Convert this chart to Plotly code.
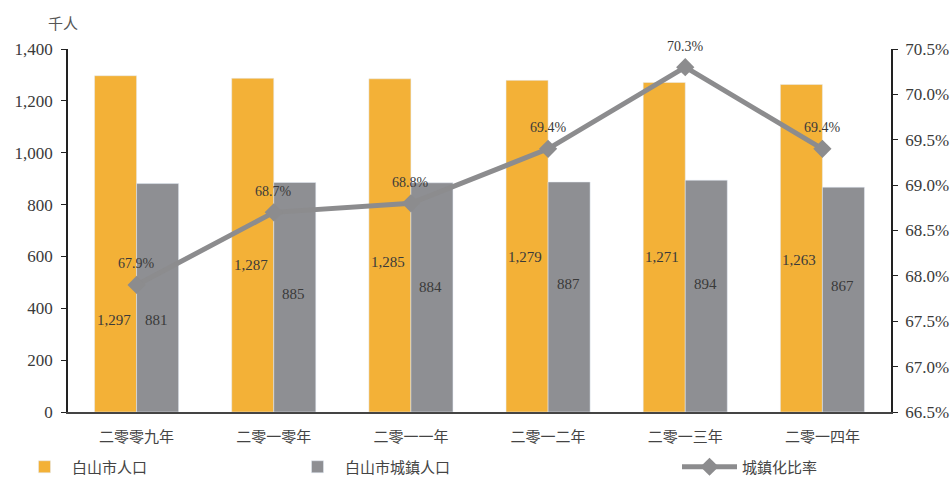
import plotly.graph_objects as go

# 白山市人口与城镇化数据
years = ["二零零九年", "二零一零年", "二零一一年", "二零一二年", "二零一三年", "二零一四年"]
total_pop = [1297, 1287, 1285, 1279, 1271, 1263]
urban_pop = [881, 885, 884, 887, 894, 867]
urban_rate = [67.9, 68.7, 68.8, 69.4, 70.3, 69.4]

# label heights (in thousands, left axis units)
total_label_y = [355, 567, 579, 598, 598, 586]
urban_label_y = [355, 455, 482, 494, 494, 486]

ORANGE = "#F3B137"
GREY = "#8E8F93"
LINE_GREY = "#8C8C8E"
TEXT = "#3a3a3a"
SERIF = "Liberation Serif, DejaVu Serif, Noto Sans CJK SC, serif"
CJK = "Noto Sans CJK SC, Noto Sans CJK TC, sans-serif"

fig = go.Figure()

fig.add_trace(go.Bar(
    x=years, y=total_pop, name="白山市人口", marker_color=ORANGE,
    legend="legend", showlegend=True, hoverinfo="skip",
))
fig.add_trace(go.Bar(
    x=years, y=urban_pop, name="白山市城鎮人口", marker_color=GREY,
    legend="legend2", showlegend=True, hoverinfo="skip",
))
fig.add_trace(go.Scatter(
    x=years, y=urban_rate, name="城鎮化比率", yaxis="y2",
    mode="lines+markers",
    line=dict(color=LINE_GREY, width=5),
    marker=dict(symbol="diamond", size=14, color=LINE_GREY),
    legend="legend3", showlegend=True, hoverinfo="skip",
))

annotations = []
for i, yr in enumerate(years):
    annotations.append(dict(
        x=yr, y=total_label_y[i], xref="x", yref="y", xshift=-23,
        text=f"{total_pop[i]:,}", showarrow=False,
        font=dict(family=SERIF, size=15, color=TEXT),
    ))
    annotations.append(dict(
        x=yr, y=urban_label_y[i], xref="x", yref="y", xshift=20,
        text=f"{urban_pop[i]:,}", showarrow=False,
        font=dict(family=SERIF, size=15, color=TEXT),
    ))
    annotations.append(dict(
        x=yr, y=urban_rate[i], xref="x", yref="y2", yshift=21,
        text=f"{urban_rate[i]:.1f}%", showarrow=False,
        font=dict(family=SERIF, size=14, color=TEXT),
    ))

# unit label above the left axis
annotations.append(dict(
    xref="x domain", yref="y domain",
    x=(63 - 68) / 823, y=(412 - 22) / 363,
    xanchor="center", yanchor="middle",
    text="千人", showarrow=False,
    font=dict(family=CJK, size=15, color="#555"),
))

legend_common = dict(
    orientation="h", yanchor="middle", xanchor="left",
    xref="container", yref="container", y=1 - 467 / 480,
    font=dict(family=CJK, size=15, color="#444"),
    bgcolor="rgba(0,0,0,0)", visible=True,
)

fig.update_layout(
    width=950, height=480,
    margin=dict(l=68, r=59, t=49, b=68, autoexpand=False),
    paper_bgcolor="white", plot_bgcolor="white",
    showlegend=True,
    barmode="group", bargap=0.387, bargroupgap=0,
    font=dict(family=SERIF, color=TEXT),
    xaxis=dict(
        showline=True, linecolor="#444", linewidth=2,
        ticks="", showgrid=False, ticklabelstandoff=10,
        tickfont=dict(family=CJK, size=15, color="#444"),
    ),
    yaxis=dict(
        range=[0, 1400], dtick=200, tickformat=",",
        showline=True, linecolor="#222", linewidth=1.5,
        ticks="outside", ticklen=5, tickcolor="#222",
        showgrid=False, zeroline=False, ticklabelstandoff=5,
        tickfont=dict(family=SERIF, size=17, color=TEXT),
    ),
    yaxis2=dict(
        overlaying="y", side="right", range=[66.5, 70.5], dtick=0.5,
        tickformat=".1f", ticksuffix="%",
        showline=True, linecolor="#222", linewidth=1.5,
        ticks="outside", ticklen=5, tickcolor="#222",
        showgrid=False, zeroline=False, ticklabelstandoff=4,
        tickfont=dict(family=SERIF, size=17, color=TEXT),
    ),
    legend=dict(x=17 / 950, itemwidth=45, **legend_common),
    legend2=dict(x=290 / 950, itemwidth=45, **legend_common),
    legend3=dict(x=677 / 950, itemwidth=55, **legend_common),
    annotations=annotations,
)

fig.write_html("out.html")
